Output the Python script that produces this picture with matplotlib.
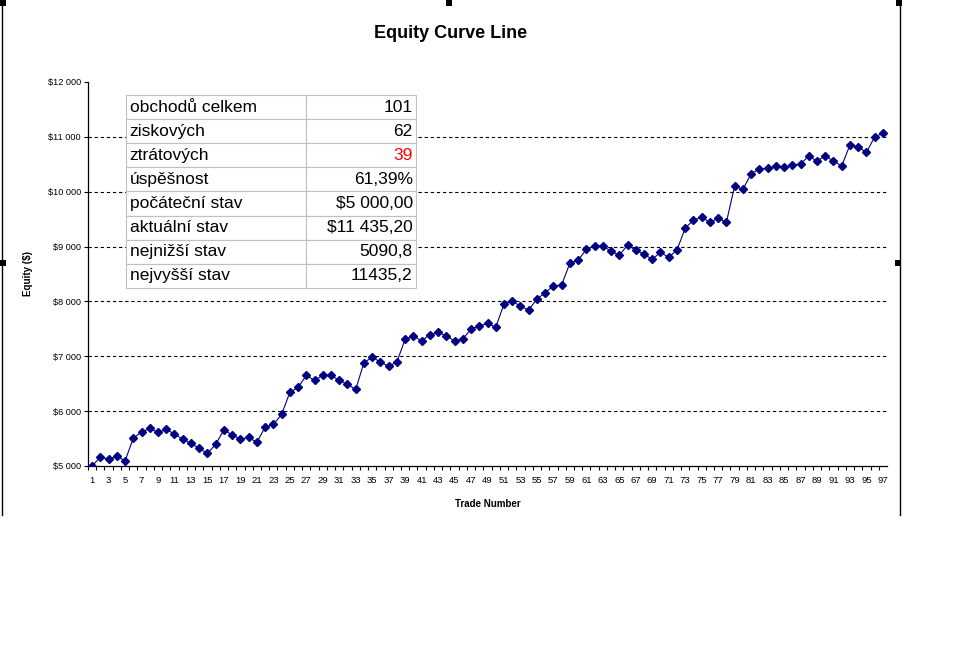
import matplotlib
matplotlib.use("Agg")
import matplotlib.pyplot as plt
from matplotlib.lines import Line2D
from matplotlib.patches import Rectangle
from matplotlib.ticker import FuncFormatter

plt.rcParams["font.family"] = ["Liberation Sans", "DejaVu Sans"]

# ── data ─────────────────────────────────────────────────────────────────────
trades = list(range(1, 98))
equity = [5000, 5164, 5127, 5182, 5091, 5509, 5618, 5685, 5612, 5667,
          5582, 5491, 5412, 5321, 5230, 5394, 5661, 5564, 5491, 5521,
          5430, 5709, 5758, 5939, 6341, 6433, 6652, 6561, 6652, 6652,
          6561, 6488, 6396, 6884, 6982, 6896, 6817, 6896, 7311, 7372,
          7280, 7396, 7439, 7372, 7280, 7317, 7494, 7552, 7601, 7528,
          7953, 8008, 7911, 7844, 8044, 8159, 8281, 8299, 8700, 8749,
          8950, 9010, 9010, 8913, 8840, 9028, 8932, 8859, 8768, 8895,
          8804, 8937, 9334, 9484, 9533, 9442, 9515, 9442, 10104, 10043,
          10323, 10414, 10426, 10463, 10444, 10487, 10505, 10651, 10560, 10651,
          10560, 10469, 10851, 10815, 10718, 10997, 11065]

stat_labels = ["obchodů celkem", "ziskových", "ztrátových", "úspěšnost",
               "počáteční stav", "aktuální stav", "nejnižší stav", "nejvyšší stav"]
stat_values = ["101", "62", "39", "61,39%", "$5 000,00", "$11 435,20",
               "5090,8", "11435,2"]

y_ticks = [5000, 6000, 7000, 8000, 9000, 10000, 11000, 12000]

# ── figure ───────────────────────────────────────────────────────────────────
W, H = 962, 650
fig = plt.figure(figsize=(W / 100, H / 100), dpi=100)
fig.patch.set_facecolor("white")

L, R, T, B = 88, 887, 82, 466
ax = fig.add_axes([L / W, 1 - B / H, (R - L) / W, (B - T) / H])

for yv in y_ticks[1:-1]:
    ax.axhline(yv, color="black", lw=0.8, ls=(0, (3, 2.5)), zorder=1)

ax.plot(trades, equity, color="#000080", lw=0.8, marker="D", ms=4.2,
        mfc="#000080", mec="#000080", zorder=3)

ax.set_xlim(0.5, 97.5)
ax.set_ylim(5000, 12000)

# category axis: labels at every other point, tick marks between points
ax.set_xticks(trades[::2])
ax.set_xticklabels([str(t) for t in trades[::2]], fontsize=6.8)
ax.set_xticks([t + 0.5 for t in range(0, 97)], minor=True)
ax.tick_params(axis="x", which="major", length=0, pad=7)
ax.tick_params(axis="x", which="minor", length=3, width=0.8, direction="out")

ax.set_yticks(y_ticks)
ax.yaxis.set_major_formatter(FuncFormatter(
    lambda v, _: "$" + f"{int(v):,}".replace(",", " ")))
ax.tick_params(axis="y", length=3, width=0.8, labelsize=6.6, pad=2)

for side in ("top", "right"):
    ax.spines[side].set_visible(False)
for side in ("left", "bottom"):
    ax.spines[side].set_linewidth(0.9)

ax.set_xlabel("Trade Number", fontsize=7, fontweight="bold", labelpad=10)
ax.set_ylabel("Equity ($)", fontsize=7, fontweight="bold", labelpad=11)

fig.text(451 / W, 1 - 33 / H, "Equity Curve Line", ha="center", va="center",
         fontsize=13, fontweight="bold")

# ── statistics table ─────────────────────────────────────────────────────────
tx0, tx1, ty0, ty1 = 126, 416, 95, 288
bbox = [(tx0 - L) / (R - L), (B - ty1) / (B - T),
        (tx1 - tx0) / (R - L), (ty1 - ty0) / (B - T)]
tbl = ax.table(cellText=[[a, b] for a, b in zip(stat_labels, stat_values)],
               colWidths=[180, 110], bbox=bbox, zorder=5)
tbl.auto_set_font_size(False)
for (r, c), cell in tbl.get_celld().items():
    cell.set_edgecolor("#c0c0c0")
    cell.set_linewidth(0.8)
    cell.set_facecolor("white")
    txt = cell.get_text()
    txt.set_fontsize(12.5)
    if c == 0:
        txt.set_horizontalalignment("left")
        cell.PAD = 0.02
    else:
        txt.set_horizontalalignment("right")
        cell.PAD = 0.03
    if c == 1 and stat_labels[r] == "ztrátových":
        txt.set_color("#ff0000")

# ── chart-area frame and selection handles ───────────────────────────────────
for xp in (1.5, 900):
    fig.add_artist(Line2D([xp / W, xp / W], [1, 1 - 515 / H],
                          color="black", lw=1.0))
for hx, hy in [(0, 0), (446, 0), (896, 0), (0, 260), (895, 260)]:
    fig.add_artist(Rectangle((hx / W, 1 - (hy + 6) / H), 6 / W, 6 / H,
                             color="black", lw=0))

fig.savefig("out.png", dpi=100)
